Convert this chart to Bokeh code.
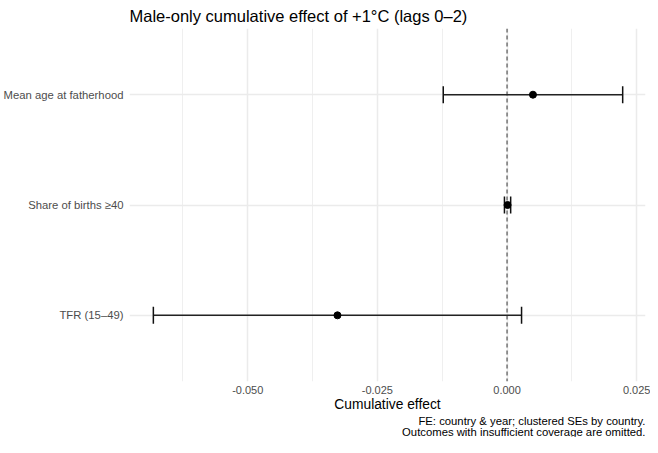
import numpy as np
from bokeh.plotting import figure
from bokeh.models import (FactorRange, Range1d, FixedTicker, Span, Title,
                          NumeralTickFormatter, ColumnDataSource)
from bokeh.embed import file_html
from bokeh.resources import INLINE

# ---- data ----
outcomes = ["TFR (15–49)", "Share of births ≥40", "Mean age at fatherhood"]
estimates = [-0.0327, 0.0001, 0.0050]
ci_low = [-0.0682, -0.0005, -0.0123]
ci_high = [0.0028, 0.0007, 0.0223]
x_ticks = [-0.05, -0.025, 0.0, 0.025]
x_minor_ticks = [-0.0625, -0.0375, -0.0125, 0.0125]
x_limits = (-0.0728, 0.0267)
title_text = "Male-only cumulative effect of +1°C (lags 0–2)"
x_label = "Cumulative effect"
caption_lines = ["FE: country & year; clustered SEs by country.",
                 "Outcomes with insufficient coverage are omitted."]

FONT = "Liberation Sans"

src = ColumnDataSource(dict(y=outcomes, est=estimates, lo=ci_low, hi=ci_high))

p = figure(width=650, height=437,
           y_range=FactorRange(factors=outcomes, range_padding=0.1,
                               range_padding_units="absolute"),
           x_range=Range1d(*x_limits),
           output_backend="svg", toolbar_location=None,
           min_border_left=100, min_border_right=5,
           min_border_top=28, min_border_bottom=56)

p.outline_line_color = None
p.background_fill_color = "white"
p.border_fill_color = "white"

# title
p.title.text = title_text
p.title.text_font = FONT
p.title.text_font_size = "16.5px"
p.title.text_font_style = "normal"
p.title.text_color = "black"
p.title.align = "left"
p.title.standoff = 8

# axes
ticker = FixedTicker(ticks=x_ticks, minor_ticks=x_minor_ticks)
p.xaxis.ticker = ticker
p.xaxis.formatter = NumeralTickFormatter(format="0.000")
p.xgrid.ticker = ticker
for ax in (p.xaxis[0], p.yaxis[0]):
    ax.axis_line_color = None
    ax.major_tick_line_color = None
    ax.minor_tick_line_color = None
    ax.major_tick_out = 0
    ax.major_tick_in = 0
    ax.minor_tick_out = 0
    ax.minor_tick_in = 0
    ax.major_label_text_font = FONT
    ax.major_label_text_font_size = "11.3px"
    ax.major_label_text_color = "#4D4D4D"
p.xaxis.major_label_text_font_size = "11px"
p.yaxis.major_label_standoff = 6
p.xaxis.major_label_standoff = 4
p.xaxis.axis_label = x_label
p.xaxis.axis_label_text_font = FONT
p.xaxis.axis_label_text_font_size = "13.8px"
p.xaxis.axis_label_text_font_style = "normal"
p.xaxis.axis_label_text_color = "black"
p.xaxis.axis_label_standoff = 0

# grids
p.xgrid.grid_line_color = "#EBEBEB"
p.xgrid.grid_line_width = 1.5
p.xgrid.minor_grid_line_color = "#EBEBEB"
p.xgrid.minor_grid_line_width = 0.8
p.ygrid.grid_line_color = "#EBEBEB"
p.ygrid.grid_line_width = 1.5

# zero reference line
zero = Span(location=0, dimension="height", line_color="#444444",
            line_dash="4 3", line_width=1.1, level="underlay")
p.add_layout(zero)

# error bars
p.segment(x0="lo", y0="y", x1="hi", y1="y", source=src,
          line_color="#222222", line_width=1.4)
p.scatter(x="lo", y="y", source=src, marker="dash", angle=np.pi / 2,
          size=17, line_color="#111111", line_width=1.5)
p.scatter(x="hi", y="y", source=src, marker="dash", angle=np.pi / 2,
          size=17, line_color="#111111", line_width=1.5)
p.scatter(x="est", y="y", source=src, size=7, color="black")

# caption (two lines, each right aligned)
for line in caption_lines:
    t = Title(text=line, align="right", text_font=FONT,
              text_font_size="11.3px", text_font_style="normal",
              text_color="black", standoff=-3)
    p.add_layout(t, "below")

open("out.html", "w").write(file_html(p, INLINE))
